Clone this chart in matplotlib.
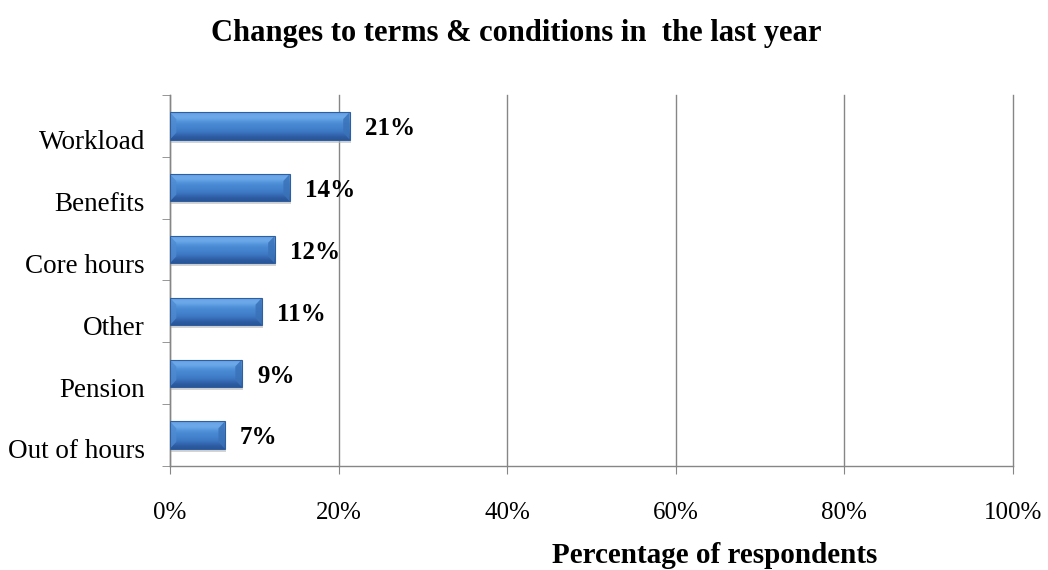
import matplotlib
matplotlib.use('Agg')
import matplotlib.pyplot as plt
import matplotlib.transforms as mtransforms
from matplotlib.patches import Polygon, Rectangle
import numpy as np

# data, top to bottom as shown
categories = ['Workload', 'Benefits', 'Core hours', 'Other', 'Pension', 'Out of hours']
values = [21.3, 14.2, 12.4, 10.9, 8.5, 6.5]
value_labels = ['21%', '14%', '12%', '11%', '9%', '7%']
xticks = [0, 20, 40, 60, 80, 100]
xtick_labels = ['0%', '20%', '40%', '60%', '80%', '100%']

plt.rcParams['font.family'] = ['Liberation Serif', 'DejaVu Serif']

fig = plt.figure(figsize=(10.48, 5.70), dpi=100)
fig.patch.set_facecolor('white')
ax = fig.add_axes([0.1622, 0.1825, 0.8044, 0.6508])

# bottom-to-top for barh
cats = categories[::-1]
vals = values[::-1]
labs = value_labels[::-1]
ypos = np.arange(len(cats))

bars = ax.barh(ypos, vals, height=0.44, color='none', edgecolor='none', zorder=3)

# vertical gradient (bottom dark -> top light)
grad = np.array([
    [42, 85, 152],
    [52, 102, 176],
    [62, 122, 198],
    [68, 130, 205],
    [72, 136, 210],
    [85, 150, 220],
    [115, 175, 238],
    [100, 160, 228],
], dtype=float) / 255.0
grad = grad.reshape(-1, 1, 3)

for b, lab in zip(bars, labs):
    x0, y0 = b.get_x(), b.get_y()
    w, h = b.get_width(), b.get_height()
    # shadow
    ax.add_patch(Rectangle((x0 + 0.15, y0 - 0.05), w, h, facecolor='#b8b8b8',
                           edgecolor='none', alpha=0.6, zorder=2))
    im = ax.imshow(grad, extent=(x0, x0 + w, y0, y0 + h), origin='lower',
                   aspect='auto', interpolation='bicubic', zorder=3)
    clip = Rectangle((x0, y0), w, h, transform=ax.transData)
    im.set_clip_path(clip)
    # bevelled ends
    bx = 0.75
    by = h * 0.25
    ax.add_patch(Polygon([(x0, y0), (x0 + bx, y0 + by), (x0 + bx, y0 + h - by), (x0, y0 + h)],
                         closed=True, facecolor='#4f8ad0', edgecolor='none', alpha=0.8, zorder=4))
    ax.add_patch(Polygon([(x0 + w, y0), (x0 + w - bx, y0 + by), (x0 + w - bx, y0 + h - by), (x0 + w, y0 + h)],
                         closed=True, facecolor='#3a72b8', edgecolor='none', alpha=0.85, zorder=4))
    ax.add_patch(Rectangle((x0, y0), w, h, facecolor='none', edgecolor='#2f5f9e',
                           linewidth=0.8, zorder=5))
    ax.annotate(lab, xy=(x0 + w, y0 + h / 2), xytext=(11, -2), textcoords='offset points',
                ha='left', va='center', fontsize=18, fontweight='bold', zorder=6)

ax.set_xlim(0, 100)
ax.set_ylim(-0.5, len(cats) - 0.5)

# x axis
ax.set_xticks(xticks)
ax.set_xticklabels(xtick_labels, fontsize=18)
ax.tick_params(axis='x', direction='out', length=6, color='#868686', pad=20)
ax.xaxis.grid(True, color='#868686', linewidth=1)
for gl in ax.get_xgridlines():
    gl.set_clip_on(False)
ax.set_axisbelow(True)

# y axis: labels at centres, tick marks at band edges
ax.set_yticks(ypos)
ax.set_yticklabels(cats, fontsize=19.5)
ax.set_yticks(np.arange(-0.5, len(cats), 1), minor=True)
ax.tick_params(axis='y', which='major', length=0, pad=18)
ax.tick_params(axis='y', which='minor', direction='out', length=6, color='#868686')
offset = mtransforms.ScaledTranslation(0, -10 / 72, fig.dpi_scale_trans)
for t in ax.get_yticklabels():
    t.set_transform(t.get_transform() + offset)

for s in ['top', 'right']:
    ax.spines[s].set_visible(False)
for s in ['left', 'bottom']:
    ax.spines[s].set_color('#868686')
    ax.spines[s].set_linewidth(1)

fig.text(0.493, 0.942, 'Changes to terms & conditions in  the last year',
         ha='center', va='center', fontsize=22, fontweight='bold')
fig.text(0.682, 0.026, 'Percentage of respondents', ha='center', va='center',
         fontsize=21, fontweight='bold')

fig.savefig('out.png', dpi=100)
